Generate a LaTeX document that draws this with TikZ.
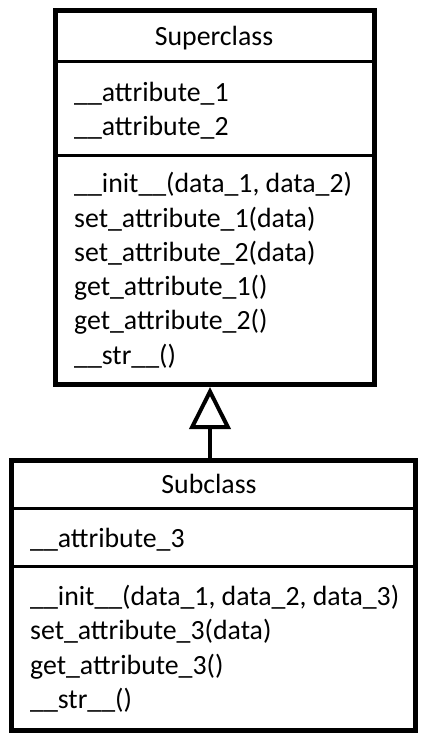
\documentclass[tikz,border=0pt]{standalone}
\usepackage{fontspec}
\setmainfont{Carlito}
\usetikzlibrary{arrows.meta}
\tikzset{
  classbox/.style={draw=black, line width=5pt, fill=none, inner sep=0pt},
  divider/.style={draw=black, line width=3pt},
  txt/.style={anchor=base west, inner sep=0pt, font=\fontsize{27.8pt}{34pt}\selectfont},
  ttl/.style={anchor=base, inner sep=0pt, font=\fontsize{27.8pt}{34pt}\selectfont},
  inherit/.style={draw=black, line width=4pt, -{Triangle[open, length=42pt, width=41pt]}}
}
\begin{document}
\begin{tikzpicture}[x=1pt, y=-1pt]
\useasboundingbox (0,0) rectangle (428,743);
% Superclass
\node[classbox, minimum width=319pt, minimum height=374pt] (super) at (215,197.5) {};
\draw[divider] (55.5,62) -- (374.5,62);
\draw[divider] (55.5,156) -- (374.5,156);
\node[ttl] (sname) at (214,46) {Superclass};
\node[txt] (sa1) at (74,102) {\_\_attribute\_1};
\node[txt] (sa2) at (74,136) {\_\_attribute\_2};
\node[txt] (sm1) at (74,193) {\_\_init\_\_(data\_1, data\_2)};
\node[txt] (sm2) at (74,227.2) {set\_attribute\_1(data)};
\node[txt] (sm3) at (74,261.4) {set\_attribute\_2(data)};
\node[txt] (sm4) at (74,295.6) {get\_attribute\_1()};
\node[txt] (sm5) at (74,329.8) {get\_attribute\_2()};
\node[txt] (sm6) at (74,364) {\_\_str\_\_()};
% Subclass
\node[classbox, minimum width=404.5pt, minimum height=270.5pt] (sub) at (213.25,595.25) {};
\draw[divider] (11,508.5) -- (415.5,508.5);
\draw[divider] (11,566.5) -- (415.5,566.5);
\node[ttl] (bname) at (209,493.5) {Subclass};
\node[txt] (ba1) at (30,547) {\_\_attribute\_3};
\node[txt] (bm1) at (30,605) {\_\_init\_\_(data\_1, data\_2, data\_3)};
\node[txt] (bm2) at (30,639.5) {set\_attribute\_3(data)};
\node[txt] (bm3) at (30,674) {get\_attribute\_3()};
\node[txt] (bm4) at (30,708.5) {\_\_str\_\_()};
% inheritance
\draw[inherit] (sub.north -| 210,0) -- (super.south -| 210,0);
\end{tikzpicture}
\end{document}
